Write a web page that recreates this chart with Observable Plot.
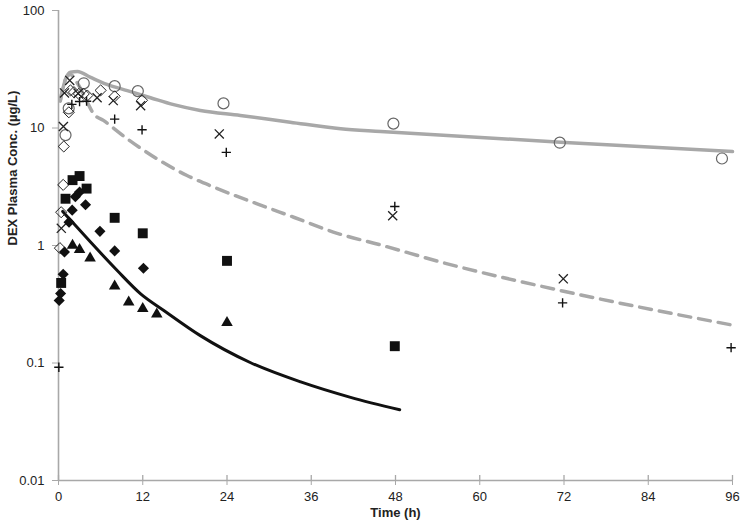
<!DOCTYPE html>
<html><head><meta charset="utf-8">
<script src="https://cdn.jsdelivr.net/npm/d3@7"></script>
<script src="https://cdn.jsdelivr.net/npm/@observablehq/plot@0.6"></script>
<style>
body{margin:0;background:#fff}
svg{font-family:"Liberation Sans",Arial,sans-serif}
</style>
</head><body><div id="chart"></div>
<script>
// Tick labels
const xTicks = [0, 12, 24, 36, 48, 60, 72, 84, 96];
const yTicks = [0.01, 0.1, 1, 10, 100];
const xTitle = "Time (h)";
const yTitle = "DEX Plasma Conc. (\u00b5g/L)";

// Observed series (time h, concentration µg/L)
const circT = [1.0, 1.45, 3.6, 8.0, 11.3, 23.5, 47.7, 71.4, 94.5];
const circC = [8.7, 14.7, 24.0, 22.7, 20.6, 16.2, 10.9, 7.5, 5.5];

const timesT = [0.4, 0.7, 0.85, 1.6, 2.8, 5.5, 7.8, 11.7, 22.9, 47.6, 71.9];
const timesC = [1.4, 10.3, 19.9, 25.4, 19.7, 18.1, 17.1, 15.5, 8.9, 1.79, 0.52];

const plusT = [0.05, 1.9, 3.0, 4.0, 8.0, 11.9, 23.9, 47.9, 71.8, 95.8];
const plusC = [0.092, 15.9, 16.8, 16.9, 11.9, 9.65, 6.2, 2.15, 0.325, 0.135];

const openDiaT = [0.2, 0.38, 0.67, 0.75, 1.47, 1.7, 2.2, 2.9, 3.6, 4.1, 6.0, 8.0, 11.9];
const openDiaC = [0.95, 1.92, 3.28, 6.96, 13.6, 20.9, 20.2, 19.5, 19.5, 18.9, 20.9, 18.6, 17.2];

const squareT = [0.38, 1.0, 2.0, 3.0, 4.0, 8.0, 12.0, 24.0, 47.9];
const squareC = [0.48, 2.5, 3.6, 3.9, 3.05, 1.72, 1.27, 0.74, 0.139];

const fillDiaT = [0.1, 0.3, 0.67, 0.85, 1.5, 1.95, 2.4, 3.0, 3.85, 5.9, 8.0, 12.1];
const fillDiaC = [0.34, 0.39, 0.57, 0.88, 1.58, 2.0, 2.6, 2.85, 2.22, 1.32, 0.90, 0.64];

const triT = [2.0, 3.0, 4.5, 8.0, 10.0, 12.0, 14.0, 24.0];
const triC = [1.0, 0.92, 0.78, 0.45, 0.33, 0.29, 0.26, 0.22];

// Model curves
const modelAT = [0.25, 0.5, 1.0, 1.7, 2.7, 4.5, 6.9, 9.8, 13.1, 16.4, 20.2, 25.9, 33.0, 40.2, 45.9, 71.5, 96];
const modelAC = [17, 20.2, 26, 29.9, 30.3, 27.1, 23.5, 20.8, 18.1, 15.8, 14.1, 12.8, 11.2, 9.84, 9.34, 7.57, 6.3];

const modelBT = [0.25, 0.5, 1.0, 1.7, 2.7, 4.0, 5.0, 6.4, 9.8, 18.3, 22.1, 28.3, 33.5, 39.7, 45.9, 55.4, 71.5, 96];
const modelBC = [17, 20.2, 26, 28.5, 24, 17, 13.2, 11.6, 8.09, 3.94, 3.14, 2.26, 1.74, 1.27, 1.01, 0.698, 0.414, 0.21];

const modelCT = [0.6, 1.5, 4.56, 8.36, 11.7, 15.0, 20.2, 27.3, 34.5, 41.6, 48.6];
const modelCC = [1.95, 1.7, 1.07, 0.613, 0.388, 0.28, 0.171, 0.101, 0.069, 0.051, 0.040];

const pts = (ts, cs) => ts.map((t, i) => ({t, c: cs[i]}));
const gray = "#a8a8a8";

const chart = Plot.plot({
  width: 742, height: 524,
  marginLeft: 58, marginRight: 10, marginTop: 10, marginBottom: 44,
  style: {fontFamily: "Liberation Sans, Arial, sans-serif", fontSize: "13px", background: "#fff", color: "#222"},
  x: {domain: [0, 96]},
  y: {type: "log", domain: [0.01, 100]},
  marks: [
    Plot.axisX({ticks: xTicks, tickSize: 5, tickPadding: 6, stroke: gray, label: null, fontSize: 13}),
    Plot.ruleX(xTicks, {y1: 0.01, y2: 0.01, insetTop: -5, stroke: gray, strokeWidth: 1.3}),
    Plot.axisY({ticks: yTicks, tickFormat: d => String(d), tickSize: 6, tickPadding: 8, stroke: gray, label: null, fontSize: 13}),
    Plot.ruleX([0], {stroke: gray, strokeWidth: 1.6}),
    Plot.ruleY([0.01], {stroke: gray, strokeWidth: 1.6}),
    Plot.line(pts(modelAT, modelAC), {x: "t", y: "c", stroke: gray, strokeWidth: 3.5, curve: "monotone-x"}),
    Plot.line(pts(modelBT, modelBC), {x: "t", y: "c", stroke: gray, strokeWidth: 3.5, strokeDasharray: "12,8", curve: "monotone-x"}),
    Plot.line(pts(modelCT, modelCC), {x: "t", y: "c", stroke: "#111", strokeWidth: 3, curve: "monotone-x"}),
    Plot.dot(pts(circT, circC), {x: "t", y: "c", r: 5.5, stroke: "#666", strokeWidth: 1.2, fill: "none"}),
    Plot.dot(pts(timesT, timesC), {x: "t", y: "c", symbol: "times", r: 4.2, stroke: "#222", strokeWidth: 1.3}),
    Plot.dot(pts(plusT, plusC), {x: "t", y: "c", symbol: "plus", r: 3.1, stroke: "#111", strokeWidth: 1.4}),
    Plot.dot(pts(openDiaT, openDiaC), {x: "t", y: "c", symbol: "diamond2", r: 5, stroke: "#222", strokeWidth: 1, fill: "none"}),
    Plot.dot(pts(squareT, squareC), {x: "t", y: "c", symbol: "square", r: 5.6, fill: "#111", stroke: "none"}),
    Plot.dot(pts(fillDiaT, fillDiaC), {x: "t", y: "c", symbol: "diamond2", r: 5, fill: "#111", stroke: "none"}),
    Plot.dot(pts(triT, triC), {x: "t", y: "c", symbol: "triangle", r: 4.3, fill: "#111", stroke: "none"}),
    Plot.text([xTitle], {text: d => d, frameAnchor: "bottom", dy: 36, fontWeight: "bold", fontSize: 13, fill: "#222"}),
    Plot.text([yTitle], {text: d => d, frameAnchor: "left", rotate: -90, dx: -46, fontWeight: "bold", fontSize: 13, fill: "#222"})
  ]
});
document.getElementById("chart").append(chart);
</script>
</body></html>
